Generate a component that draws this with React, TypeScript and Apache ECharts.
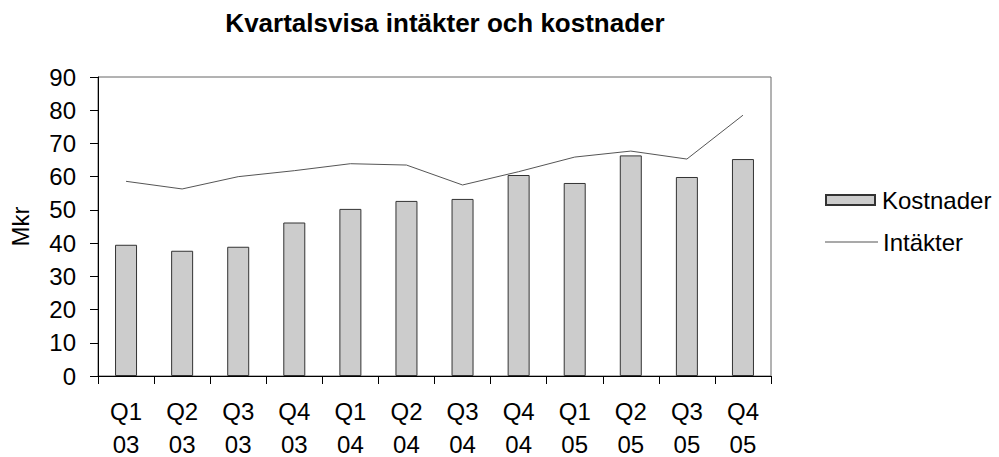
import React, { useEffect, useRef } from "react";
import * as echarts from "echarts";

const titleText = "Kvartalsvisa intäkter och kostnader";
const quarters = ["Q1", "Q2", "Q3", "Q4", "Q1", "Q2", "Q3", "Q4", "Q1", "Q2", "Q3", "Q4"];
const years = ["03", "03", "03", "03", "04", "04", "04", "04", "05", "05", "05", "05"];
const categories = quarters.map((q, i) => q + "\n" + years[i]);
const kostnader = [39.5, 37.7, 38.9, 46.2, 50.3, 52.7, 53.3, 60.5, 58.1, 66.4, 59.9, 65.3];
const intakter = [58.6, 56.3, 60.0, 61.8, 63.9, 63.5, 57.5, 61.5, 65.9, 67.7, 65.3, 78.5];
const yName = "Mkr";
const seriesNames = ["Kostnader", "Intäkter"];

const FONT = "'Liberation Sans', Arial, sans-serif";

export default function App() {
  const ref = useRef<HTMLDivElement>(null);
  useEffect(() => {
    if (!ref.current) return;
    const chart = echarts.init(ref.current, null, { renderer: "svg" });
    chart.setOption({
      animation: false,
      backgroundColor: "#ffffff",
      textStyle: { fontFamily: FONT },
      title: {
        text: titleText,
        left: 440,
        top: 5,
        textAlign: "center",
        textStyle: { fontFamily: FONT, fontWeight: "bold", fontSize: 26, color: "#000" },
      },
      legend: [
        {
          orient: "vertical",
          left: 820,
          top: 183,
          itemWidth: 49,
          itemHeight: 10,
          textStyle: { fontFamily: FONT, fontSize: 24, color: "#000", padding: [0, 0, 0, 2] },
          data: [{ name: seriesNames[0], icon: "rect" }],
        },
        {
          orient: "vertical",
          left: 820,
          top: 225,
          itemWidth: 53,
          itemHeight: 1,
          itemStyle: { color: "#555555", borderWidth: 0 },
          textStyle: { fontFamily: FONT, fontSize: 24, color: "#000" },
          data: [{ name: seriesNames[1], icon: "rect" }],
        },
      ],
      grid: {
        left: 98,
        right: 228,
        top: 77,
        bottom: 81,
        show: true,
        borderColor: "#666",
        borderWidth: 1,
        backgroundColor: "transparent",
        containLabel: false,
        outerBoundsMode: "none",
      },
      xAxis: {
        type: "category",
        data: categories,
        boundaryGap: true,
        axisLine: { lineStyle: { color: "#000", width: 1 } },
        axisTick: { show: true, length: 8, inside: false, lineStyle: { color: "#000" } },
        axisLabel: {
          fontFamily: FONT,
          fontSize: 24,
          color: "#000",
          margin: 12,
          interval: 0,
          formatter: (v: string) => {
            const parts = v.split("\n");
            return "{a|" + parts[0] + "}\n{b|" + parts[1] + "}";
          },
          rich: {
            a: { fontFamily: FONT, fontSize: 24, color: "#000", lineHeight: 46 },
            b: { fontFamily: FONT, fontSize: 24, color: "#000", lineHeight: 20 },
          },
        },
      },
      yAxis: {
        type: "value",
        min: 0,
        max: 90,
        interval: 10,
        name: yName,
        nameLocation: "middle",
        nameGap: 66,
        nameRotate: 90,
        nameTextStyle: { fontFamily: FONT, fontSize: 24, color: "#000" },
        axisLine: { show: true, lineStyle: { color: "#000", width: 1 } },
        axisTick: { show: true, length: 8, inside: false, lineStyle: { color: "#000" } },
        axisLabel: { fontFamily: FONT, fontSize: 24, color: "#000", margin: 22 },
        splitLine: { show: false },
      },
      series: [
        {
          name: seriesNames[0],
          type: "bar",
          data: kostnader,
          barWidth: 22,
          itemStyle: { color: "#cccccc", borderColor: "#333333", borderWidth: 1 },
        },
        {
          name: seriesNames[1],
          type: "line",
          data: intakter,
          symbol: "none",
          showSymbol: false,
          lineStyle: { color: "#555555", width: 1 },
          itemStyle: { color: "#555555" },
          z: 3,
        },
      ],
    });
    return () => chart.dispose();
  }, []);
  return <div ref={ref} style={{ width: 999, height: 457, position: "absolute", left: 0, top: 0 }} />;
}
